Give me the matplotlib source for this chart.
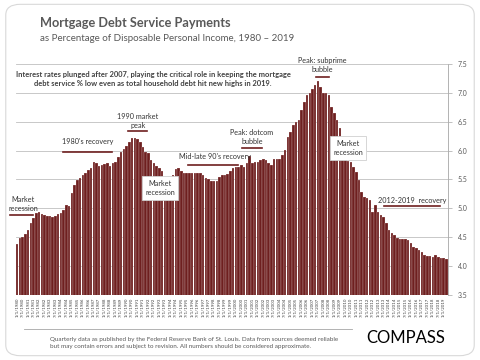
import matplotlib.pyplot as plt
from matplotlib.patches import FancyBboxPatch

# quarterly mortgage debt service payments, % of disposable personal income
start_year = 1980
values = [
    4.38, 4.49, 4.51, 4.55,  # 1980
    4.63, 4.75, 4.83, 4.92,  # 1981
    4.94, 4.90, 4.88, 4.86,  # 1982
    4.86, 4.85, 4.86, 4.90,  # 1983
    4.92, 4.97, 5.06, 5.04,  # 1984
    5.27, 5.40, 5.49, 5.52,  # 1985
    5.58, 5.61, 5.66, 5.70,  # 1986
    5.80, 5.78, 5.73, 5.75,  # 1987
    5.77, 5.79, 5.73, 5.78,  # 1988
    5.80, 5.89, 5.98, 6.02,  # 1989
    6.08, 6.15, 6.22, 6.22,  # 1990
    6.20, 6.15, 6.06, 5.98,  # 1991
    5.95, 5.84, 5.78, 5.73,  # 1992
    5.70, 5.64, 5.55, 5.55,  # 1993
    5.55, 5.58, 5.68, 5.70,  # 1994
    5.65, 5.61, 5.61, 5.61,  # 1995
    5.61, 5.61, 5.62, 5.61,  # 1996
    5.58, 5.52, 5.50, 5.48,  # 1997
    5.48, 5.48, 5.55, 5.58,  # 1998
    5.58, 5.60, 5.64, 5.70,  # 1999
    5.72, 5.72, 5.75, 5.72,  # 2000
    5.78, 5.90, 5.78, 5.80,  # 2001
    5.80, 5.83, 5.86, 5.84,  # 2002
    5.78, 5.75, 5.85, 5.85,  # 2003
    5.85, 5.92, 6.01, 6.24,  # 2004
    6.32, 6.44, 6.50, 6.53,  # 2005
    6.70, 6.84, 6.96, 7.00,  # 2006
    7.07, 7.14, 7.21, 7.10,  # 2007
    7.00, 7.00, 6.96, 6.76,  # 2008
    6.65, 6.53, 6.39, 6.20,  # 2009
    5.85, 5.82, 5.80, 5.72,  # 2010
    5.63, 5.49, 5.28, 5.20,  # 2011
    5.18, 5.15, 4.94, 5.06,  # 2012
    4.94, 4.88, 4.85, 4.74,  # 2013
    4.63, 4.57, 4.54, 4.49,  # 2014
    4.47, 4.47, 4.47, 4.45,  # 2015
    4.40, 4.33, 4.31, 4.28,  # 2016
    4.25, 4.19, 4.18, 4.18,  # 2017
    4.16, 4.19, 4.16, 4.14,  # 2018
    4.13, 4.12,              # 2019
]
months = [1, 4, 7, 10]
dates = [f"{months[i % 4]}/1/{start_year + i // 4}" for i in range(len(values))]
y_ticks = [3.5, 4.0, 4.5, 5.0, 5.5, 6.0, 6.5, 7.0, 7.5]

title = "Mortgage Debt Service Payments"
subtitle = "as Percentage of Disposable Personal Income, 1980 \u2013 2019"
note = ("Interest rates plunged after 2007, playing the critical role in keeping the mortgage\n"
        "debt service % low even as total household debt hit new highs in 2019.")
footer = ("Quarterly data as published by the Federal Reserve Bank of St. Louis. Data from sources deemed reliable\n"
          "but may contain errors and subject to revision. All numbers should be considered approximate.")

plt.rcParams['font.family'] = ['Lato', 'DejaVu Sans']
bar_color = "#6e1f1f"
text_gray = "#333333"

fig = plt.figure(figsize=(4.8, 3.6), dpi=100)
fig.patches.append(FancyBboxPatch((0.012, 0.012), 0.976, 0.976, boxstyle="round,pad=0,rounding_size=0.03",
                                  transform=fig.transFigure, facecolor="white", edgecolor="#d9d9d9",
                                  linewidth=0.8, zorder=-1))

ax = fig.add_axes([0.033, 0.181, 0.9, 0.641])
x = list(range(len(values)))
ax.bar(x, values, width=0.92, color=bar_color, edgecolor="white", linewidth=0.15, zorder=2)
ax.set_xlim(-0.5, len(values) - 0.5)
ax.set_ylim(3.5, 7.5)
ax.yaxis.tick_right()
ax.set_yticks(y_ticks)
ax.set_yticklabels([f"{v:.1f}" for v in y_ticks], fontsize=5, color="#595959")
ax.tick_params(axis="y", length=3, width=0.5, color="#a6a6a6", pad=4)
ax.set_xticks(x[::2])
ax.set_xticklabels(dates[::2], rotation=90, fontsize=3.2, color="#404040")
ax.tick_params(axis="x", length=0, pad=2)
ax.grid(axis="y", color="#bfbfbf", linewidth=0.6, zorder=0)
for side in ["top", "left", "bottom"]:
    ax.spines[side].set_visible(False)
ax.spines["right"].set_color("#a6a6a6")
ax.spines["right"].set_linewidth(0.6)
ax.set_facecolor("none")

fig.text(0.083, 0.936, title, fontsize=9.2, fontweight="bold", color="#595959", va="center")
fig.text(0.083, 0.893, subtitle, fontsize=7, color="#595959", va="center")


def px(xp, yp):
    return xp / 480, 1 - yp / 360


def label(xp, yp, text, line=None, box=False):
    kw = dict(fontsize=5.2, color=text_gray, ha="center", va="center", linespacing=1.3, zorder=5)
    if box:
        kw["bbox"] = dict(boxstyle="square,pad=0.5", facecolor="white", edgecolor="#d0d0d0", linewidth=0.6)
    fig.text(*px(xp, yp), text, **kw)
    if line:
        x0, x1, yl = line
        fig.add_artist(plt.Line2D([x0 / 480, x1 / 480], [1 - yl / 360] * 2, color=bar_color, linewidth=1.2))


fig.text(*px(153, 79), note, fontsize=5.4, fontweight="bold", color="#404040", ha="center", va="center",
         linespacing=1.35, zorder=5)
label(23, 204, "Market\nrecession", line=(10, 33, 215))
label(88, 142, "1980's recovery", line=(63, 112, 152))
label(138, 121, "1990 market\npeak", line=(128, 147, 131))
label(160, 188, "Market\nrecession", box=True)
label(215, 157, "Mid-late 90's recovery", line=(188, 238, 165))
label(252, 137, "Peak: dotcom\nbubble", line=(242, 262, 148))
label(322, 65, "Peak: subprime\nbubble", line=(316, 329, 77))
label(348, 148, "Market\nrecession", box=True)
label(412, 200, "2012-2019  recovery", line=(384, 440, 206))

fig.add_artist(plt.Line2D([24 / 480, 352 / 480], [1 - 329 / 360] * 2, color="#a6a6a6", linewidth=0.6))
fig.text(50 / 480, 1 - 343 / 360, footer, fontsize=4.5, color="#595959", va="center", linespacing=1.4)
fig.text(406 / 480, 1 - 338 / 360, "COMPASS", fontsize=12, color="black", ha="center", va="center")

fig.savefig("out.png", dpi=100)
